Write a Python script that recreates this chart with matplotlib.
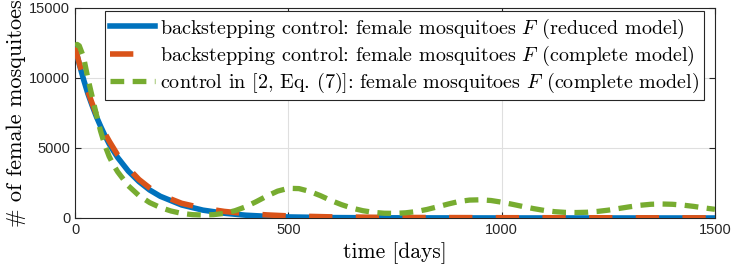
import numpy as np
import matplotlib
matplotlib.use('Agg')
import matplotlib.pyplot as plt

# time [days] and female mosquito counts
t_blue = [0, 10, 20, 30, 40, 50, 60, 70, 80, 90, 100, 125, 150, 175, 200, 250, 300, 350, 400, 450, 500, 600, 700, 800, 1000, 1500]
F_blue = [12200, 11000, 9900, 8900, 8050, 7250, 6550, 5900, 5300, 4800, 4320, 3350, 2600, 2000, 1550, 930, 560, 340, 200, 120, 75, 30, 15, 8, 3, 0]

t_orange = [0, 10, 20, 30, 40, 50, 60, 70, 80, 90, 100, 125, 150, 175, 200, 250, 300, 350, 400, 450, 500, 600, 700, 800, 1000, 1500]
F_orange = [12200, 11050, 10000, 9050, 8200, 7400, 6700, 6050, 5500, 5000, 4500, 3550, 2750, 2150, 1650, 1050, 700, 470, 320, 220, 150, 80, 50, 35, 20, 10]

t_green = [0, 5, 10, 20, 30, 40, 50, 60, 70, 80, 90, 100, 125, 150, 175, 200, 225, 250, 275, 300,
           325, 350, 375, 400, 425, 450, 475, 500, 525, 550, 575, 600, 625, 650, 675, 700, 725, 750,
           775, 800, 825, 850, 875, 900, 925, 950, 975, 1000, 1025, 1050, 1075, 1100, 1125, 1150,
           1175, 1200, 1225, 1250, 1275, 1300, 1325, 1350, 1375, 1400, 1425, 1450, 1475, 1500]
F_green = [12300, 12400, 12300, 11500, 10000, 8700, 7400, 6200, 5200, 4400, 3800, 3300, 2300, 1600, 1100, 750, 500, 330, 240, 210,
           240, 330, 520, 800, 1170, 1570, 1920, 2120, 2100, 1900, 1600, 1250, 950, 700, 520, 400, 340, 330,
           370, 460, 610, 800, 1000, 1180, 1280, 1300, 1250, 1130, 980, 820, 670, 540, 450, 400,
           390, 410, 470, 560, 680, 800, 910, 980, 1000, 980, 920, 830, 720, 620]

labels = [r'backstepping control: female mosquitoes $F$ (reduced model)',
          r'backstepping control: female mosquitoes $F$ (complete model)',
          r'control in [2, Eq. (7)]: female mosquitoes $F$ (complete model)']

plt.rcParams['mathtext.fontset'] = 'cm'
plt.rcParams['font.family'] = ['Liberation Sans', 'DejaVu Sans']

fig = plt.figure(figsize=(7.31, 2.70), dpi=100)
ax = fig.add_axes([0.1026, 0.1926, 0.8754, 0.7778])

ax.plot(t_blue, F_blue, color='#0072BD', lw=4, label=labels[0], zorder=3)
ax.plot(t_orange, F_orange, color='#D95319', lw=4, dashes=(4.2, 4.2), label=labels[1], zorder=4)
ax.plot(t_green, F_green, color='#77AC30', lw=3.8, dashes=(2.6, 1.6), label=labels[2], zorder=5)

ax.set_xlim(0, 1500)
ax.set_ylim(0, 15000)
ax.set_xticks([0, 500, 1000, 1500])
ax.set_yticks([0, 5000, 10000, 15000])
ax.grid(True, color='#DFDFDF', lw=0.8)
ax.set_axisbelow(True)
ax.tick_params(direction='in', length=4, width=0.8, colors='#262626', labelsize=10.5,
               top=True, right=True)
for s in ax.spines.values():
    s.set_color('#262626')
    s.set_linewidth(0.8)

cm = 'cmr10'
ax.set_xlabel('time [days]', fontfamily=cm, fontsize=15.5, labelpad=4)
ax.set_ylabel('# of female mosquitoes', fontfamily=cm, fontsize=16, labelpad=2)

leg = ax.legend(loc='upper right', bbox_to_anchor=(0.983, 0.984), prop={'family': cm, 'size': 14.5},
                handlelength=2.2, handletextpad=0.25, borderpad=0.25, borderaxespad=0.0,
                labelspacing=0.15, fancybox=False, edgecolor='#262626', framealpha=1)
leg.get_frame().set_linewidth(0.8)

fig.savefig('out.png', dpi=100)
